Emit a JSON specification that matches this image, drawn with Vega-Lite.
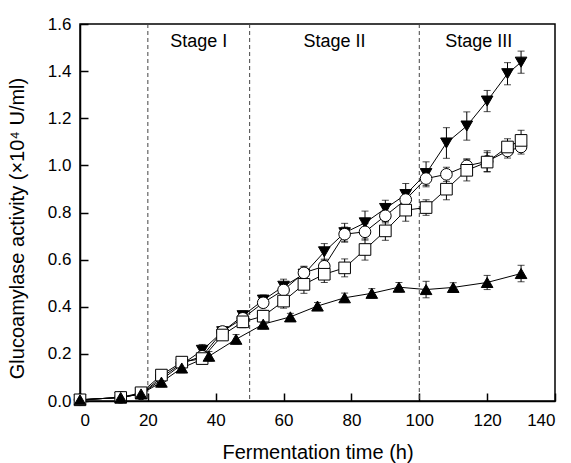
{
  "$schema": "https://vega.github.io/schema/vega-lite/v6.json",
  "width": 475,
  "height": 377,
  "autosize": {"type": "none"},
  "padding": {"left": 80, "top": 24, "right": 16, "bottom": 62},
  "background": "white",
  "config": {
    "view": {"stroke": "black", "strokeWidth": 1.5},
    "axis": {
      "grid": false,
      "domainColor": "black",
      "domainWidth": 1.5,
      "tickColor": "black",
      "tickWidth": 1.5,
      "labelFont": "Liberation Sans",
      "labelFontSize": 17,
      "labelColor": "black",
      "titleFont": "Liberation Sans",
      "titleFontSize": 20,
      "titleFontWeight": "normal",
      "titleColor": "black"
    }
  },
  "datasets": {
    "series": [
      {"s": "A", "t": 0, "v": 0.005, "e": 0.004},
      {"s": "A", "t": 12, "v": 0.015, "e": 0.008},
      {"s": "A", "t": 18, "v": 0.03, "e": 0.01},
      {"s": "A", "t": 24, "v": 0.09, "e": 0.02},
      {"s": "A", "t": 30, "v": 0.155, "e": 0.025},
      {"s": "A", "t": 36, "v": 0.215, "e": 0.025},
      {"s": "A", "t": 42, "v": 0.294, "e": 0.02},
      {"s": "A", "t": 48, "v": 0.362, "e": 0.02},
      {"s": "A", "t": 54, "v": 0.428, "e": 0.022},
      {"s": "A", "t": 60, "v": 0.487, "e": 0.03},
      {"s": "A", "t": 66, "v": 0.538, "e": 0.034},
      {"s": "A", "t": 72, "v": 0.633, "e": 0.035},
      {"s": "A", "t": 78, "v": 0.714, "e": 0.04},
      {"s": "A", "t": 84, "v": 0.756, "e": 0.05},
      {"s": "A", "t": 90, "v": 0.817, "e": 0.035},
      {"s": "A", "t": 96, "v": 0.876, "e": 0.047},
      {"s": "A", "t": 102, "v": 0.965, "e": 0.05},
      {"s": "A", "t": 108, "v": 1.095, "e": 0.065},
      {"s": "A", "t": 114, "v": 1.167, "e": 0.06},
      {"s": "A", "t": 120, "v": 1.273, "e": 0.045},
      {"s": "A", "t": 126, "v": 1.389, "e": 0.047},
      {"s": "A", "t": 130, "v": 1.438, "e": 0.047},
      {"s": "B", "t": 0, "v": 0.005, "e": 0.004},
      {"s": "B", "t": 12, "v": 0.015, "e": 0.008},
      {"s": "B", "t": 18, "v": 0.03, "e": 0.01},
      {"s": "B", "t": 24, "v": 0.1, "e": 0.02},
      {"s": "B", "t": 30, "v": 0.16, "e": 0.02},
      {"s": "B", "t": 36, "v": 0.19, "e": 0.02},
      {"s": "B", "t": 42, "v": 0.295, "e": 0.02},
      {"s": "B", "t": 48, "v": 0.351, "e": 0.02},
      {"s": "B", "t": 54, "v": 0.417, "e": 0.02},
      {"s": "B", "t": 60, "v": 0.471, "e": 0.025},
      {"s": "B", "t": 66, "v": 0.544, "e": 0.025},
      {"s": "B", "t": 72, "v": 0.572, "e": 0.03},
      {"s": "B", "t": 78, "v": 0.708, "e": 0.03},
      {"s": "B", "t": 84, "v": 0.718, "e": 0.035},
      {"s": "B", "t": 90, "v": 0.786, "e": 0.03},
      {"s": "B", "t": 96, "v": 0.855, "e": 0.035},
      {"s": "B", "t": 102, "v": 0.944, "e": 0.035},
      {"s": "B", "t": 108, "v": 0.962, "e": 0.03},
      {"s": "B", "t": 114, "v": 0.998, "e": 0.03},
      {"s": "B", "t": 120, "v": 1.017, "e": 0.045},
      {"s": "B", "t": 126, "v": 1.061, "e": 0.03},
      {"s": "B", "t": 130, "v": 1.078, "e": 0.03},
      {"s": "C", "t": 0, "v": 0.005, "e": 0.004},
      {"s": "C", "t": 12, "v": 0.015, "e": 0.008},
      {"s": "C", "t": 18, "v": 0.035, "e": 0.01},
      {"s": "C", "t": 24, "v": 0.11, "e": 0.015},
      {"s": "C", "t": 30, "v": 0.165, "e": 0.02},
      {"s": "C", "t": 36, "v": 0.18, "e": 0.02},
      {"s": "C", "t": 42, "v": 0.28, "e": 0.02},
      {"s": "C", "t": 48, "v": 0.336, "e": 0.025},
      {"s": "C", "t": 54, "v": 0.36, "e": 0.025},
      {"s": "C", "t": 60, "v": 0.424, "e": 0.03},
      {"s": "C", "t": 66, "v": 0.495, "e": 0.038},
      {"s": "C", "t": 72, "v": 0.538, "e": 0.035},
      {"s": "C", "t": 78, "v": 0.565, "e": 0.038},
      {"s": "C", "t": 84, "v": 0.643, "e": 0.045},
      {"s": "C", "t": 90, "v": 0.722, "e": 0.04},
      {"s": "C", "t": 96, "v": 0.81, "e": 0.047},
      {"s": "C", "t": 102, "v": 0.821, "e": 0.033},
      {"s": "C", "t": 108, "v": 0.899, "e": 0.045},
      {"s": "C", "t": 114, "v": 0.979, "e": 0.045},
      {"s": "C", "t": 120, "v": 1.014, "e": 0.04},
      {"s": "C", "t": 126, "v": 1.078, "e": 0.035},
      {"s": "C", "t": 130, "v": 1.106, "e": 0.043},
      {"s": "D", "t": 0, "v": 0.005, "e": 0.004},
      {"s": "D", "t": 12, "v": 0.015, "e": 0.008},
      {"s": "D", "t": 18, "v": 0.03, "e": 0.01},
      {"s": "D", "t": 24, "v": 0.08, "e": 0.02},
      {"s": "D", "t": 30, "v": 0.14, "e": 0.02},
      {"s": "D", "t": 38, "v": 0.19, "e": 0.02},
      {"s": "D", "t": 46, "v": 0.262, "e": 0.02},
      {"s": "D", "t": 54, "v": 0.326, "e": 0.02},
      {"s": "D", "t": 62, "v": 0.357, "e": 0.015},
      {"s": "D", "t": 70, "v": 0.403, "e": 0.015},
      {"s": "D", "t": 78, "v": 0.438, "e": 0.02},
      {"s": "D", "t": 86, "v": 0.457, "e": 0.02},
      {"s": "D", "t": 94, "v": 0.483, "e": 0.02},
      {"s": "D", "t": 102, "v": 0.473, "e": 0.035},
      {"s": "D", "t": 110, "v": 0.482, "e": 0.02},
      {"s": "D", "t": 120, "v": 0.503, "e": 0.03},
      {"s": "D", "t": 130, "v": 0.541, "e": 0.035}
    ],
    "bounds": [{"b": 20}, {"b": 50}, {"b": 100}],
    "stages": [
      {"c": 35, "label": "Stage I"},
      {"c": 75, "label": "Stage II"},
      {"c": 117.5, "label": "Stage III"}
    ]
  },
  "layer": [
    {
      "data": {"name": "bounds"},
      "mark": {"type": "rule", "color": "#444444", "strokeWidth": 1, "strokeDash": [4, 3]},
      "encoding": {
        "x": {"field": "b", "type": "quantitative", "title": "Fermentation time (h)", "scale": {"domain": [0, 140], "nice": false}}
      }
    },
    {
      "data": {"name": "stages"},
      "mark": {"type": "text", "font": "Liberation Sans", "fontSize": 18, "color": "black", "baseline": "middle", "align": "center"},
      "encoding": {
        "x": {"field": "c", "type": "quantitative", "title": "Fermentation time (h)"},
        "y": {"datum": 1.525, "type": "quantitative", "title": "Glucoamylase activity (×10⁴ U/ml)"},
        "text": {"field": "label"}
      }
    },
    {
      "data": {"name": "series"},
      "mark": {"type": "errorbar", "ticks": {"size": 7, "thickness": 1, "color": "black"}, "rule": {"strokeWidth": 1, "color": "black"}},
      "encoding": {
        "x": {"field": "t", "type": "quantitative", "title": "Fermentation time (h)"},
        "y": {"field": "v", "type": "quantitative", "title": "Glucoamylase activity (×10⁴ U/ml)"},
        "yError": {"field": "e"},
        "detail": {"field": "s"}
      }
    },
    {
      "data": {"name": "series"},
      "mark": {"type": "line", "color": "black", "strokeWidth": 1},
      "encoding": {
        "x": {"field": "t", "type": "quantitative", "title": "Fermentation time (h)"},
        "y": {"field": "v", "type": "quantitative", "title": "Glucoamylase activity (×10⁴ U/ml)"},
        "detail": {"field": "s"}
      }
    },
    {
      "data": {"name": "series"},
      "mark": {"type": "point", "filled": false, "stroke": "black", "strokeWidth": 1, "opacity": 1, "size": 135},
      "encoding": {
        "x": {
          "field": "t", "type": "quantitative",
          "title": "Fermentation time (h)",
          "scale": {"domain": [0, 140], "nice": false},
          "axis": {
            "values": [0, 10, 20, 30, 40, 50, 60, 70, 80, 90, 100, 110, 120, 130, 140],
            "labelExpr": "datum.value % 20 === 0 ? datum.label : ''",
            "tickSize": {"condition": {"test": "datum.value % 20 !== 0", "value": -4}, "value": -8},
            "labelPadding": 19,
            "titlePadding": 14
          }
        },
        "y": {
          "field": "v", "type": "quantitative",
          "title": "Glucoamylase activity (×10⁴ U/ml)",
          "scale": {"domain": [0, 1.6], "nice": false},
          "axis": {
            "values": [0, 0.1, 0.2, 0.3, 0.4, 0.5, 0.6, 0.7, 0.8, 0.9, 1.0, 1.1, 1.2, 1.3, 1.4, 1.5, 1.6],
            "format": ".1f",
            "labelExpr": "round(datum.value * 10) % 2 === 0 ? datum.label : ''",
            "tickSize": {"condition": {"test": "round(datum.value * 10) % 2 !== 0", "value": -4}, "value": -8},
            "labelPadding": 17,
            "titlePadding": 20,
            "titleY": 204
          }
        },
        "shape": {
          "field": "s", "type": "nominal",
          "scale": {"domain": ["A", "B", "C", "D"], "range": ["triangle-down", "circle", "square", "triangle-up"]},
          "legend": null
        },
        "fill": {
          "field": "s", "type": "nominal",
          "scale": {"domain": ["A", "B", "C", "D"], "range": ["black", "white", "white", "black"]},
          "legend": null
        }
      }
    }
  ]
}
